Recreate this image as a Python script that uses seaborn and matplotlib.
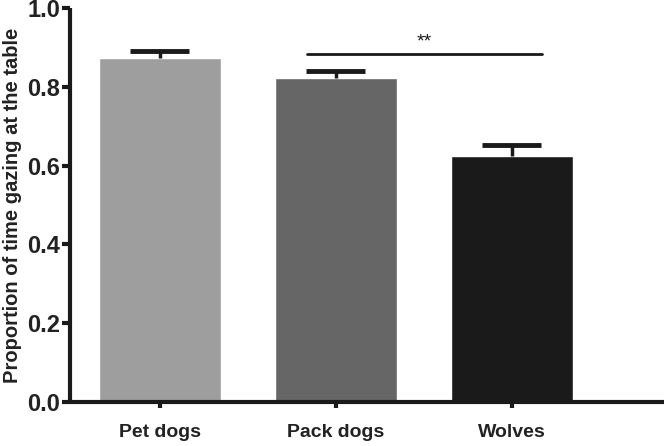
import numpy as np
import pandas as pd
import matplotlib
matplotlib.use("Agg")
import matplotlib.pyplot as plt
import seaborn as sns

groups = ["Pet dogs", "Pack dogs", "Wolves"]
means = [0.873, 0.822, 0.624]
sem = [0.019, 0.019, 0.029]
colors = ["#9e9e9e", "#666666", "#1a1a1a"]

df = pd.DataFrame({"group": groups, "prop": means})

sns.set_theme(style="white")
plt.rcParams["font.family"] = ["Liberation Sans", "DejaVu Sans"]
plt.rcParams["font.weight"] = "bold"

fig = plt.figure(figsize=(6.64, 4.46), dpi=100)
ax = fig.add_axes([0.1054, 0.0987, 0.8946, 0.8834])

sns.barplot(data=df, x="group", y="prop", hue="group", palette=colors,
            order=groups, errorbar=None, width=0.69, legend=False, ax=ax)

# upper error bars only (stem + cap)
xpos = np.arange(len(groups))
tops = np.array(means) + np.array(sem)
ax.vlines(xpos, means, tops, color="#1a1a1a", lw=2.5, zorder=3)
ax.hlines(tops, xpos - 0.168, xpos + 0.168, color="#1a1a1a", lw=3.5, zorder=3)

# significance bar between pack dogs and wolves
ax.plot([0.835, 2.17], [0.883, 0.883], color="#1a1a1a", lw=2)
ax.text(1.5, 0.893, "**", ha="center", va="bottom", fontsize=14,
        fontweight="normal", color="#1a1a1a")

ax.set_ylim(0, 1.0)
ax.set_xlim(-0.51, 2.864)
ax.set_yticks([0, 0.2, 0.4, 0.6, 0.8, 1.0])
ax.set_yticklabels(["0.0", "0.2", "0.4", "0.6", "0.8", "1.0"])
ax.set_xlabel("")
ax.set_ylabel("Proportion of time gazing at the table", fontsize=14.5,
              fontweight="bold", color="#222222", labelpad=4)

for s in ["top", "right"]:
    ax.spines[s].set_visible(False)
for s in ["left", "bottom"]:
    ax.spines[s].set_linewidth(3)
    ax.spines[s].set_color("#1a1a1a")
    ax.spines[s].set_capstyle("butt")

ax.tick_params(axis="y", which="major", direction="out", length=6, width=3,
               color="#1a1a1a", labelsize=17, labelcolor="#222222", pad=1, left=True)
ax.tick_params(axis="x", which="major", direction="out", length=4, width=3,
               color="#1a1a1a", labelsize=14, labelcolor="#222222", pad=12, bottom=True)
for lab in ax.get_xticklabels() + ax.get_yticklabels():
    lab.set_fontweight("bold")

fig.savefig("out.png", dpi=100)
